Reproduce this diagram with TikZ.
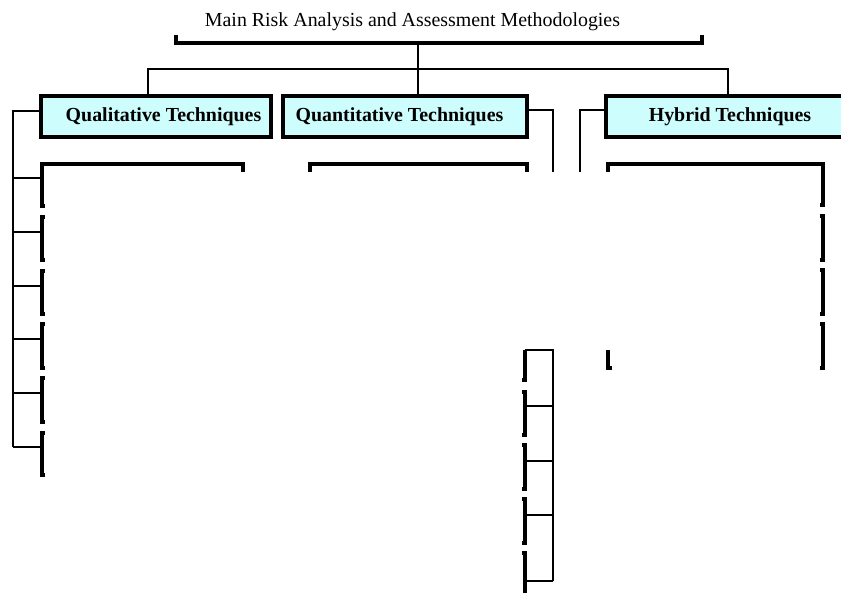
\documentclass[tikz,border=0pt]{standalone}
\usepackage{fontspec}
\setmainfont{Liberation Serif}
\usetikzlibrary{positioning}
\definecolor{techcyan}{RGB}{206,253,253}
\tikzset{
  link/.style={line width=2pt},
  edge/.style={line width=3.8pt},
  techbox/.style={draw, line width=3.5pt, fill=techcyan, minimum height=41pt,
    inner sep=0pt, outer sep=0pt, font=\fontsize{19.9}{22}\selectfont\bfseries},
}

\begin{document}
\begin{tikzpicture}[x=1pt,y=-1pt]
    \useasboundingbox (0,0) rectangle (841,593);
    \clip (0,0) rectangle (841,593);
    % ROOT
    \node[font=\fontsize{19.9}{22}\selectfont, inner sep=0pt, anchor=base] (root) at (412.5,27)
      {Main Risk Analysis and Assessment Methodologies};
    \coordinate (rootL) at (176,43);
    \coordinate (rootR) at (702,43);
    \coordinate (stem) at (418,43);
    \coordinate (bus) at (418,69);
    \draw[edge] ([yshift=8pt]rootL) -- (rootL) -- (rootR) -- ([yshift=8pt]rootR);
    % FIRST LEVEL
    \node[techbox, minimum width=230pt] (qual) at (156,116.5) {\hspace*{15pt}Qualitative Techniques};
    \node[techbox, minimum width=244pt] (quant) at (405,116.5) {Quantitative Techniques\hspace*{11pt}};
    \node[techbox, minimum width=248pt] (hyb) at (730,116.5) {Hybrid Techniques};
    % connectors
    \draw[link] (stem) -- ([xshift=13pt]quant.north);
    \draw[link] ([xshift=-8pt]qual.north) |- (bus) -| ([xshift=-2pt]hyb.north);
    % SECOND LEVEL
    % qualitative children
    \coordinate (qspine) at (13,447);
    \draw[link] ([yshift=5pt]qual.west) -| (qspine);
    \coordinate (ql1) at (42,178);
    \coordinate (ql2) at (42,232);
    \coordinate (ql3) at (42,286);
    \coordinate (ql4) at (42,339);
    \coordinate (ql5) at (42,393);
    \coordinate (ql6) at (42,447);
    \draw[link] (qspine |- ql1) -- (ql1);
    \draw[link] (qspine |- ql2) -- (ql2);
    \draw[link] (qspine |- ql3) -- (ql3);
    \draw[link] (qspine |- ql4) -- (ql4);
    \draw[link] (qspine |- ql5) -- (ql5);
    \draw[link] (qspine) -- (ql6);
    % box edges
    \draw[edge] (243,172) -- (243,164) -- (42,164) -- (42,206) -- (45,206);
    \draw[edge] (45,217) -- (42,217) -- (42,260) -- (45,260);
    \draw[edge] (45,271) -- (42,271) -- (42,314) -- (45,314);
    \draw[edge] (45,324) -- (42,324) -- (42,368) -- (45,368);
    \draw[edge] (45,378) -- (42,378) -- (42,422) -- (45,422);
    \draw[edge] (45,433) -- (42,433) -- (42,475) -- (45,475);
    % quantitative children
    \coordinate (qnup) at (553,172);
    \draw[link] ([yshift=6pt]quant.east) -| (qnup);
    \draw[edge] (310,172) -- (310,164) -- (527,164) -- (527,172);
    \coordinate (qrail) at (553,581);
    \coordinate (qr1) at (525,350);
    \coordinate (qr2) at (525,406);
    \coordinate (qr3) at (525,461);
    \coordinate (qr4) at (525,515);
    \coordinate (qr5) at (525,581);
    \draw[link] (qr1) -- (qrail |- qr1) -- (qrail);
    \draw[link] (qrail |- qr2) -- (qr2);
    \draw[link] (qrail |- qr3) -- (qr3);
    \draw[link] (qrail |- qr4) -- (qr4);
    \draw[link] (qrail) -- (qr5);
    % box edges
    \draw[edge] (525,350) -- (525,380) -- (522,380);
    \draw[edge] (522,392) -- (525,392) -- (525,435) -- (522,435);
    \draw[edge] (522,445) -- (525,445) -- (525,489) -- (522,489);
    \draw[edge] (522,499) -- (525,499) -- (525,543) -- (522,543);
    \draw[edge] (522,553) -- (525,553) -- (525,600);
    % hybrid children
    \coordinate (hyup) at (580,172);
    \draw[link] ([yshift=6pt]hyb.west) -| (hyup);
    \draw[edge] (608,172) -- (608,164) -- (823,164) -- (823,205) -- (820,205);
    \draw[edge] (820,216) -- (823,216) -- (823,260) -- (820,260);
    \draw[edge] (820,270) -- (823,270) -- (823,314) -- (820,314);
    \draw[edge] (820,324) -- (823,324) -- (823,368) -- (820,368);
    \draw[edge] (608,350) -- (608,368) -- (612,368);
\end{tikzpicture}
\end{document}
